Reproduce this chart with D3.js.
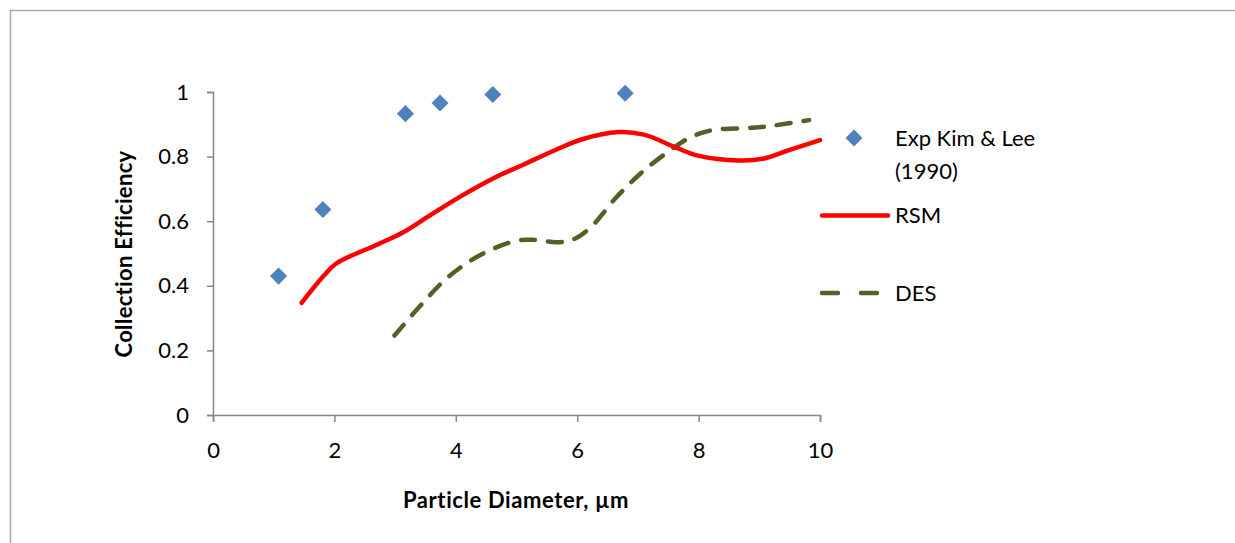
<!DOCTYPE html>
<html>
<head>
<meta charset="utf-8">
<script src="https://cdn.jsdelivr.net/npm/d3@7"></script>
<style>
  html, body { margin: 0; padding: 0; background: #fff; }
  svg { display: block; }
  text { font-family: Lato, "Open Sans", sans-serif; fill: #000; }
</style>
</head>
<body>
<svg id="chart" width="1235" height="543"></svg>
<script>
// Experimental collection efficiency (Kim & Lee, 1990)
const expDiameter = [1.08, 1.81, 3.17, 3.74, 4.61, 6.79];
const expEfficiency = [0.430, 0.636, 0.933, 0.966, 0.992, 0.996];

// RSM prediction
const rsmDiameter = [1.46, 1.82, 2.03, 2.71, 3.12, 3.60, 4.08, 4.63, 5.11, 5.66, 6.07, 6.68, 7.10, 7.64, 7.99, 8.67, 9.08, 9.49, 10.0];
const rsmEfficiency = [0.347, 0.430, 0.469, 0.528, 0.564, 0.621, 0.677, 0.734, 0.775, 0.822, 0.853, 0.876, 0.868, 0.827, 0.803, 0.788, 0.794, 0.820, 0.851];

// DES prediction
const desDiameter = [2.99, 3.40, 3.88, 4.42, 5.01, 5.32, 5.66, 5.93, 6.21, 6.65, 7.10, 7.61, 7.88, 8.23, 8.88, 9.15, 9.82];
const desEfficiency = [0.246, 0.335, 0.428, 0.497, 0.540, 0.542, 0.535, 0.543, 0.579, 0.675, 0.757, 0.830, 0.861, 0.882, 0.889, 0.894, 0.913];

const xTicks = [0, 2, 4, 6, 8, 10];
const yTicks = [0, 0.2, 0.4, 0.6, 0.8, 1];
const seriesNames = ["Exp Kim & Lee", "(1990)", "RSM", "DES"];

const svg = d3.select("#chart");
const fontSize = 22;

// outer chart frame
svg.append("path")
  .attr("d", "M10.5,543 L10.5,10.5 L1235,10.5")
  .attr("fill", "none")
  .attr("stroke", "#a6a6a6")
  .attr("stroke-width", 1.5);

const x = d3.scaleLinear().domain([0, 10]).range([213, 820]);
const y = d3.scaleLinear().domain([0, 1]).range([415, 92]);

const axisColor = "#868686";

// y axis
const yAxis = svg.append("g")
  .attr("transform", `translate(${x(0)},0)`)
  .call(d3.axisLeft(y).tickValues(yTicks).tickSize(6).tickPadding(18)
    .tickFormat(d => d3.format("")(+d.toFixed(1))));
yAxis.select(".domain").attr("stroke", axisColor).attr("stroke-width", 1.5);
yAxis.selectAll(".tick line").attr("stroke", axisColor).attr("stroke-width", 1.5);
yAxis.selectAll(".tick text").attr("font-size", fontSize).attr("font-family", "Lato, sans-serif").attr("fill", "#000");

// x axis
const xAxis = svg.append("g")
  .attr("transform", `translate(0,${y(0)})`)
  .call(d3.axisBottom(x).tickValues(xTicks).tickSize(7).tickPadding(20).tickFormat(d3.format("d")));
xAxis.select(".domain").attr("stroke", axisColor).attr("stroke-width", 1.5);
xAxis.selectAll(".tick line").attr("stroke", axisColor).attr("stroke-width", 1.5);
xAxis.selectAll(".tick text").attr("font-size", fontSize).attr("font-family", "Lato, sans-serif").attr("fill", "#000");

// axis titles
svg.append("text")
  .attr("x", 516).attr("y", 508)
  .attr("text-anchor", "middle")
  .attr("font-size", fontSize).attr("font-weight", "bold")
  .attr("letter-spacing", 0.6)
  .text("Particle Diameter, µm");

svg.append("text")
  .attr("transform", "translate(132,254) rotate(-90)")
  .attr("text-anchor", "middle")
  .attr("font-size", fontSize).attr("font-weight", "bold")
  .attr("letter-spacing", 0.3)
  .text("Collection Efficiency");

const line = d3.line()
  .x(d => x(d[0]))
  .y(d => y(d[1]))
  .curve(d3.curveCatmullRom.alpha(0.5));

// DES dashed curve
svg.append("path")
  .datum(d3.zip(desDiameter, desEfficiency))
  .attr("d", line)
  .attr("fill", "none")
  .attr("stroke", "#4f6228")
  .attr("stroke-width", 4.5)
  .attr("stroke-linecap", "round")
  .attr("stroke-dasharray", "14,13");

// RSM solid curve
svg.append("path")
  .datum(d3.zip(rsmDiameter, rsmEfficiency))
  .attr("d", line)
  .attr("fill", "none")
  .attr("stroke", "#ff0000")
  .attr("stroke-width", 4.5)
  .attr("stroke-linecap", "round");

// experimental markers
const diamond = d3.symbol().type(d3.symbolDiamond2).size(185);
svg.append("g")
  .selectAll("path")
  .data(d3.zip(expDiameter, expEfficiency))
  .join("path")
  .attr("d", diamond)
  .attr("transform", d => `translate(${x(d[0])},${y(d[1])})`)
  .attr("fill", "#4f81bd");

// legend
const legend = svg.append("g");
legend.append("path")
  .attr("d", diamond)
  .attr("transform", "translate(854,138)")
  .attr("fill", "#4f81bd");
legend.append("text").attr("x", 895).attr("y", 146).attr("font-size", fontSize).text(seriesNames[0]);
legend.append("text").attr("x", 895).attr("y", 179).attr("font-size", fontSize).text(seriesNames[1]);

legend.append("line")
  .attr("x1", 822).attr("x2", 888).attr("y1", 215.5).attr("y2", 215.5)
  .attr("stroke", "#ff0000").attr("stroke-width", 4.5).attr("stroke-linecap", "round");
legend.append("text").attr("x", 895).attr("y", 223).attr("font-size", fontSize).text(seriesNames[2]);

legend.append("line")
  .attr("x1", 822).attr("x2", 880).attr("y1", 293).attr("y2", 293)
  .attr("stroke", "#4f6228").attr("stroke-width", 4.5).attr("stroke-linecap", "round")
  .attr("stroke-dasharray", "16,23");
legend.append("text").attr("x", 895).attr("y", 301).attr("font-size", fontSize).text(seriesNames[3]);
</script>
</body>
</html>
